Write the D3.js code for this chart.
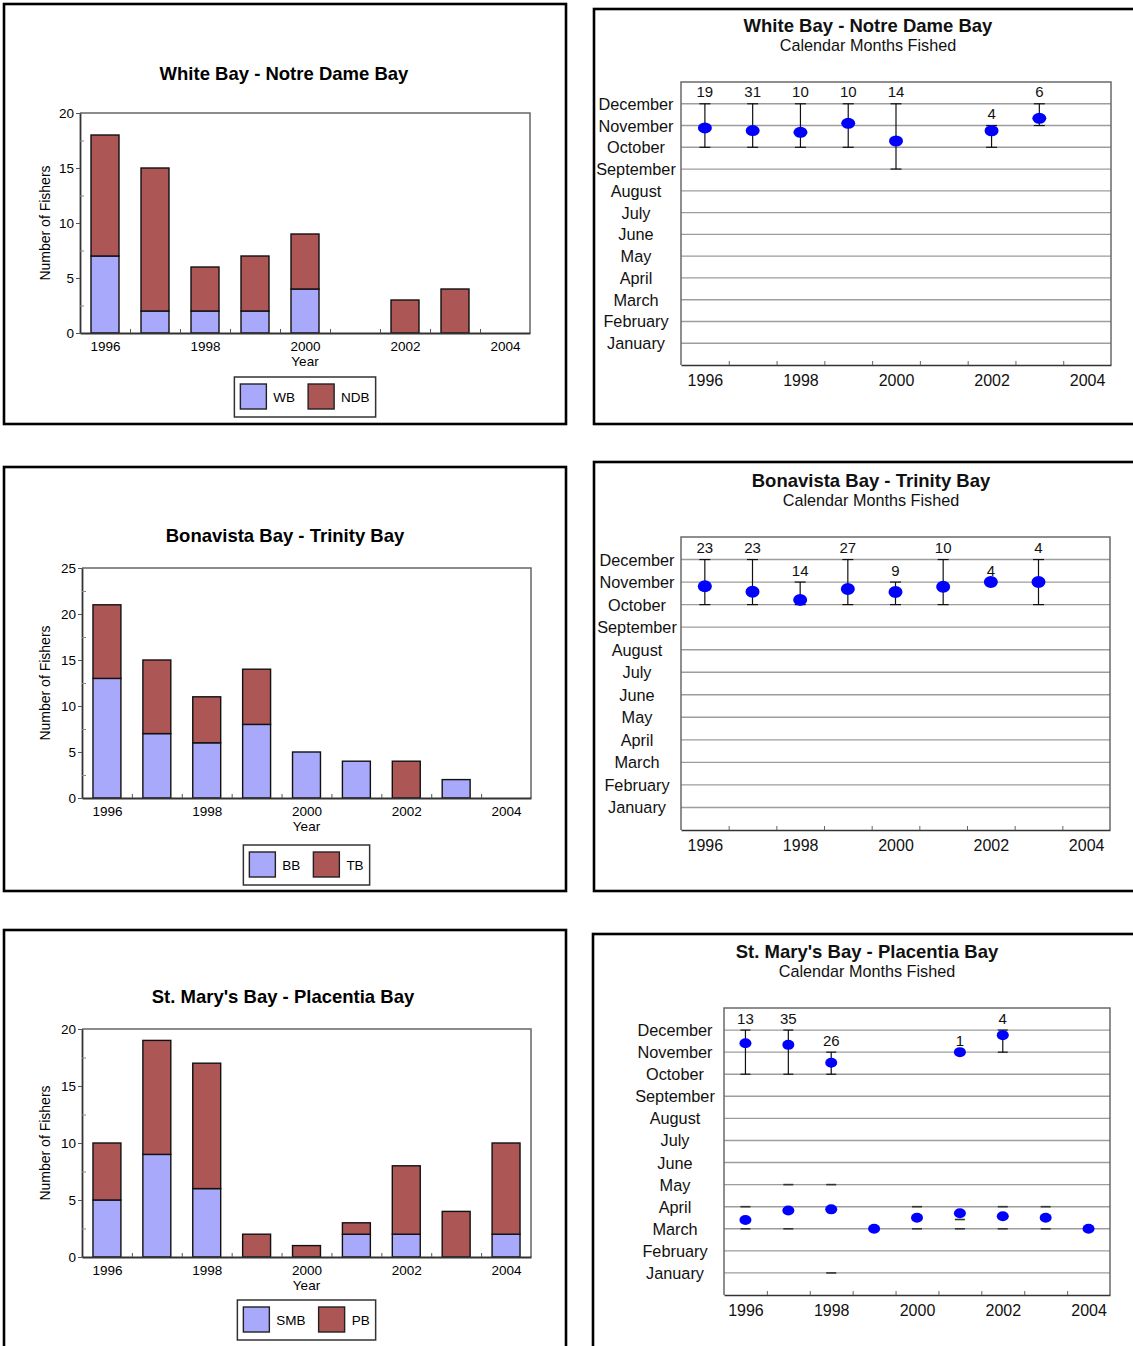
<!DOCTYPE html>
<html>
<head>
<meta charset="utf-8">
<script src="https://cdn.jsdelivr.net/npm/d3@7"></script>
<style>
  body { margin: 0; background: #fff; }
  svg { display: block; font-family: "Liberation Sans", Arial, Helvetica, sans-serif; }
</style>
</head>
<body>
<svg id="chart" width="1133" height="1346"></svg>
<script>
// ---- data -------------------------------------------------------------
const years = [1996, 1997, 1998, 1999, 2000, 2001, 2002, 2003, 2004];
const yearLabels = [1996, 1998, 2000, 2002, 2004];
const monthNames = ["January", "February", "March", "April", "May", "June",
  "July", "August", "September", "October", "November", "December"];

// Number of fishers per year (stacked: lower bay + upper bay)
const wbCounts  = [7, 2, 2, 2, 4, 0, 0, 0, 0];
const ndbCounts = [11, 13, 4, 5, 5, 0, 3, 4, 0];
const bbCounts  = [13, 7, 6, 8, 5, 4, 0, 2, 0];
const tbCounts  = [8, 8, 5, 6, 0, 0, 4, 0, 0];
const smbCounts = [5, 9, 6, 0, 0, 2, 2, 0, 2];
const pbCounts  = [5, 10, 11, 2, 1, 1, 6, 4, 8];

// Calendar months fished (month number 1 = January ... 12 = December)
const wndYears = [1996, 1997, 1998, 1999, 2000, 2002, 2003];
const wndN     = [19, 31, 10, 10, 14, 4, 6];
const wndMean  = [10.89, 10.77, 10.69, 11.1, 10.29, 10.76, 11.33];
const wndLow   = [10, 10, 10, 10, 9, 10, 11];
const wndHigh  = [12, 12, 12, 12, 12, 11, 12];

const bttYears = [1996, 1997, 1998, 1999, 2000, 2001, 2002, 2003];
const bttN     = [23, 23, 14, 27, 9, 10, 4, 4];
const bttMean  = [10.82, 10.57, 10.21, 10.69, 10.56, 10.79, 11, 11];
const bttLow   = [10, 10, 10, 10, 10, 10, 11, 10];
const bttHigh  = [12, 12, 11, 12, 11, 12, 11, 12];

const smpFallYears = [1996, 1997, 1998, 2001, 2002];
const smpFallN     = [13, 35, 26, 1, 4];
const smpFallMean  = [11.4, 11.33, 10.52, 11, 11.77];
const smpFallLow   = [10, 10, 10, 11, 11];
const smpFallHigh  = [12, 12, 11, 11, 12];

const smpSpringYears = [1996, 1997, 1998, 1999, 2000, 2001, 2002, 2003, 2004];
const smpSpringMean  = [3.4, 3.83, 3.88, 3, 3.5, 3.7, 3.57, 3.5, 3];
const smpSpringLow   = [3, 3, 1, 3, 3, 3, 3, 3, 3];
const smpSpringHigh  = [4, 5, 5, 3, 4, 3.42, 4, 4, 3];

// ---- drawing ----------------------------------------------------------
const svg = d3.select("#chart");
const BLUE = "#a9a9fc", RED = "#ad5656", DOT = "#0000ff";
const FONT = "Liberation Sans, Arial, sans-serif";

function frame(x, y, w, h) {
  svg.append("rect").attr("x", x).attr("y", y).attr("width", w).attr("height", h)
    .attr("fill", "none").attr("stroke", "#000").attr("stroke-width", 2.6);
}

function barPanel(p) {
  const g = svg.append("g");
  const x = d3.scaleLinear().domain([1995.5, 2004.5]).range([p.left, p.right]);
  const y = d3.scaleLinear().domain([0, p.yMax]).range([p.bottom, p.top]);
  const barW = 0.56 * (x(1997) - x(1996));

  g.append("text").attr("x", p.titleX).attr("y", p.titleY + 6.5)
    .attr("text-anchor", "middle").attr("font-size", 18.5).attr("font-weight", "bold")
    .text(p.title);

  // plot frame (top & right lighter)
  g.append("path").attr("d", `M${p.left},${p.top}H${p.right}V${p.bottom}`)
    .attr("fill", "none").attr("stroke", "#666").attr("stroke-width", 1.5);

  const rows = years.map((yr, i) => ({ year: yr, lower: p.lower[i], upper: p.upper[i] }));
  const layers = d3.stack().keys(["lower", "upper"])(rows);
  const colors = [BLUE, RED];
  layers.forEach((layer, li) => {
    g.selectAll(null).data(layer.filter(d => d[1] > d[0])).enter().append("rect")
      .attr("x", d => x(d.data.year) - barW / 2).attr("width", barW)
      .attr("y", d => y(d[1])).attr("height", d => y(d[0]) - y(d[1]))
      .attr("fill", colors[li]).attr("stroke", "#111").attr("stroke-width", 1.4);
  });

  // y axis
  const yAx = g.append("g").attr("transform", `translate(${p.left},0)`)
    .call(d3.axisLeft(y).tickValues(d3.range(0, p.yMax + 1, 5)).tickSize(4)
      .tickSizeOuter(0).tickPadding(2));
  yAx.selectAll("text").attr("font-size", 13.5).attr("fill", "#000").style("font-family", FONT);
  yAx.select(".domain").attr("stroke", "#333").attr("stroke-width", 1.8);
  yAx.selectAll(".tick line").attr("stroke", "#555");
  const yMinor = g.append("g").attr("transform", `translate(${p.left},0)`)
    .call(d3.axisLeft(y).tickValues(d3.range(2.5, p.yMax, 5)).tickSize(-4)
      .tickSizeOuter(0).tickFormat(""));
  yMinor.select(".domain").remove();
  yMinor.selectAll(".tick line").attr("stroke", "#888");

  // x axis
  const xAx = g.append("g").attr("transform", `translate(0,${p.bottom})`)
    .call(d3.axisBottom(x).tickValues(yearLabels).tickSize(0).tickSizeOuter(0)
      .tickPadding(8).tickFormat(d3.format("d")));
  xAx.selectAll("text").attr("font-size", 13.5).attr("fill", "#000").style("font-family", FONT);
  xAx.select(".domain").attr("stroke", "#333").attr("stroke-width", 1.8);
  const xMinor = g.append("g").attr("transform", `translate(0,${p.bottom})`)
    .call(d3.axisBottom(x).tickValues(d3.range(1996.5, 2004, 1)).tickSize(-4)
      .tickSizeOuter(0).tickFormat(""));
  xMinor.select(".domain").remove();
  xMinor.selectAll(".tick line").attr("stroke", "#555");

  g.append("text").attr("x", (p.left + p.right) / 2).attr("y", p.bottom + 33)
    .attr("text-anchor", "middle").attr("font-size", 13.5).text("Year");
  const cy = (p.top + p.bottom) / 2;
  g.append("text").attr("transform", `translate(50,${cy}) rotate(-90)`)
    .attr("text-anchor", "middle").attr("font-size", 14).text("Number of Fishers");

  // legend
  const lg = g.append("g");
  const box = lg.append("rect").attr("y", p.legendY).attr("height", 40)
    .attr("fill", "#fff").attr("stroke", "#333").attr("stroke-width", 1.5);
  const items = [];
  p.names.forEach((name, i) => {
    const sw = lg.append("rect").attr("y", p.legendY + 7).attr("width", 26).attr("height", 25)
      .attr("fill", colors[i]).attr("stroke", "#222").attr("stroke-width", 1.4);
    const t = lg.append("text").attr("y", p.legendY + 25).attr("font-size", 13.5).text(name);
    items.push({ sw, t, w: t.node().getComputedTextLength() });
  });
  const pad = 6, gapSw = 7, gapItem = 13;
  const total = pad * 2 + items.reduce((s, it) => s + 26 + gapSw + it.w, 0) + gapItem * (items.length - 1);
  const x0 = (p.left + p.right) / 2 - total / 2;
  box.attr("x", x0).attr("width", total);
  let cx = x0 + pad;
  items.forEach(it => {
    it.sw.attr("x", cx);
    it.t.attr("x", cx + 26 + gapSw);
    cx += 26 + gapSw + it.w + gapItem;
  });
}

function monthPanel(p) {
  const g = svg.append("g");
  const x = d3.scaleLinear().domain([1995.5, 2004.5]).range([p.left, p.right]);
  const y = d3.scaleLinear().domain([0, 13]).range([p.bottom, p.top]);

  g.append("text").attr("x", p.titleX).attr("y", p.titleY + 6.5)
    .attr("text-anchor", "middle").attr("font-size", 18.5).attr("font-weight", "bold")
    .attr("fill", "#111").text(p.title);
  g.append("text").attr("x", p.titleX).attr("y", p.titleY + 25.5)
    .attr("text-anchor", "middle").attr("font-size", 16.2).attr("fill", "#111")
    .text("Calendar Months Fished");

  // month grid
  const months = d3.range(1, 13);
  g.selectAll(null).data(months).enter().append("line")
    .attr("x1", p.left).attr("x2", p.right)
    .attr("y1", d => y(d)).attr("y2", d => y(d))
    .attr("stroke", "#9d9d9d").attr("stroke-width", 1.4);
  g.selectAll(null).data(months).enter().append("text")
    .attr("x", p.labelX).attr("y", d => y(d) + 6)
    .attr("text-anchor", "middle").attr("font-size", 16.3).attr("fill", "#111")
    .text(d => monthNames[d - 1]);

  // frame
  g.append("path").attr("d", `M${p.left},${p.bottom}V${p.top}H${p.right}V${p.bottom}`)
    .attr("fill", "none").attr("stroke", "#6a6a6a").attr("stroke-width", 1.5);

  const xAx = g.append("g").attr("transform", `translate(0,${p.bottom})`)
    .call(d3.axisBottom(x).tickValues(yearLabels).tickSize(0).tickSizeOuter(0)
      .tickPadding(10).tickFormat(d3.format("d")));
  xAx.selectAll("text").attr("font-size", 16).attr("fill", "#111").style("font-family", FONT);
  xAx.select(".domain").attr("stroke", "#333").attr("stroke-width", 1.6);
  const xMinor = g.append("g").attr("transform", `translate(0,${p.bottom})`)
    .call(d3.axisBottom(x).tickValues(d3.range(1996.5, 2004, 1)).tickSize(-4)
      .tickSizeOuter(0).tickFormat(""));
  xMinor.select(".domain").remove();
  xMinor.selectAll(".tick line").attr("stroke", "#666");

  p.series.forEach(s => {
    const pts = s.years.map((yr, i) => ({ year: yr, mean: s.mean[i], low: s.low[i], high: s.high[i], n: s.n ? s.n[i] : null }));
    const hw = p.capHalf;
    if (s.stem) {
      g.selectAll(null).data(pts.filter(d => d.high > d.low)).enter().append("line")
        .attr("x1", d => x(d.year)).attr("x2", d => x(d.year))
        .attr("y1", d => y(d.high)).attr("y2", d => y(d.low))
        .attr("stroke", "#111").attr("stroke-width", 1.2);
    }
    ["low", "high"].forEach(k => {
      g.selectAll(null).data(pts.filter(d => d.high > d.low)).enter().append("line")
        .attr("x1", d => x(d.year) - hw).attr("x2", d => x(d.year) + hw)
        .attr("y1", d => y(d[k])).attr("y2", d => y(d[k]))
        .attr("stroke", s.stem ? "#111" : "#333").attr("stroke-width", s.stem ? 1.2 : 1.6);
    });
    g.selectAll(null).data(pts).enter().append("ellipse")
      .attr("cx", d => x(d.year)).attr("cy", d => y(d.mean))
      .attr("rx", p.rx).attr("ry", p.ry).attr("fill", DOT);
    if (s.n) {
      g.selectAll(null).data(pts).enter().append("text")
        .attr("x", d => x(d.year)).attr("y", d => y(d.high) - 12 + 5.5)
        .attr("text-anchor", "middle").attr("font-size", 15).attr("fill", "#111")
        .text(d => d.n);
    }
  });
}

// panel frames
frame(4, 4, 562, 420);
frame(594, 9, 560, 415);
frame(4, 467, 562, 424);
frame(594, 462, 560, 429);
frame(4, 930, 562, 440);
frame(593, 934, 560, 440);

barPanel({ title: "White Bay - Notre Dame Bay", titleX: 284, titleY: 73,
  left: 80, right: 530, top: 113, bottom: 333, yMax: 20,
  lower: wbCounts, upper: ndbCounts, names: ["WB", "NDB"], legendY: 377 });

barPanel({ title: "Bonavista Bay - Trinity Bay", titleX: 285, titleY: 535,
  left: 82, right: 531, top: 568, bottom: 798, yMax: 25,
  lower: bbCounts, upper: tbCounts, names: ["BB", "TB"], legendY: 845 });

barPanel({ title: "St. Mary's Bay - Placentia Bay", titleX: 283, titleY: 996,
  left: 82, right: 531, top: 1029, bottom: 1257, yMax: 20,
  lower: smbCounts, upper: pbCounts, names: ["SMB", "PB"], legendY: 1300 });

monthPanel({ title: "White Bay - Notre Dame Bay", titleX: 868, titleY: 25,
  left: 681, right: 1111, top: 82, bottom: 365, labelX: 636,
  rx: 7, ry: 5.5, capHalf: 5.5,
  series: [{ years: wndYears, n: wndN, mean: wndMean, low: wndLow, high: wndHigh, stem: true }] });

monthPanel({ title: "Bonavista Bay - Trinity Bay", titleX: 871, titleY: 480,
  left: 681, right: 1110, top: 537, bottom: 830, labelX: 637,
  rx: 7, ry: 6, capHalf: 5.5,
  series: [{ years: bttYears, n: bttN, mean: bttMean, low: bttLow, high: bttHigh, stem: true }] });

monthPanel({ title: "St. Mary's Bay - Placentia Bay", titleX: 867, titleY: 951,
  left: 724, right: 1110, top: 1008, bottom: 1295, labelX: 675,
  rx: 6, ry: 5, capHalf: 5,
  series: [
    { years: smpFallYears, n: smpFallN, mean: smpFallMean, low: smpFallLow, high: smpFallHigh, stem: true },
    { years: smpSpringYears, mean: smpSpringMean, low: smpSpringLow, high: smpSpringHigh, stem: false }
  ] });
</script>
</body>
</html>
